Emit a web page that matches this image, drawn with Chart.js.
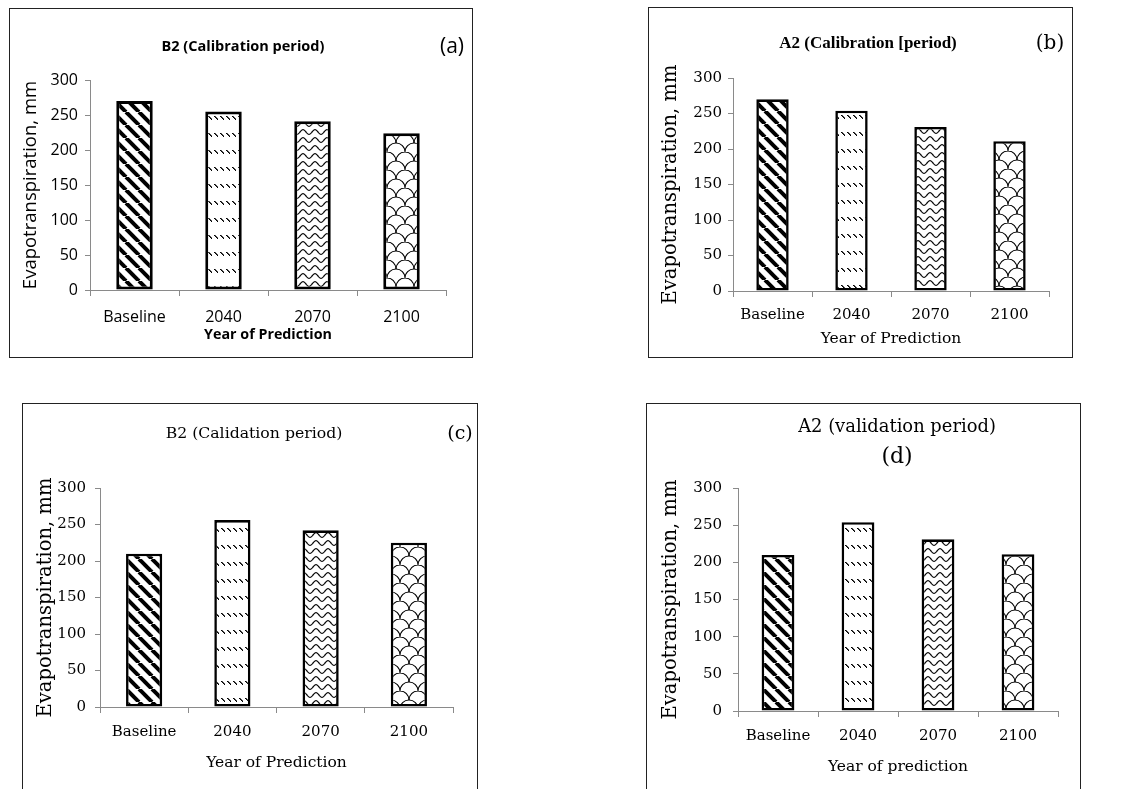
<!DOCTYPE html>
<html>
<head>
<meta charset="utf-8">
<script src="https://cdn.jsdelivr.net/npm/chart.js@4.4.0/dist/chart.umd.min.js"></script>
<style>
  html, body { margin: 0; padding: 0; background: #fff; width: 1124px; height: 789px; overflow: hidden; position: relative; }
  .box { position: absolute; border: 1.6px solid #222; box-sizing: border-box; }
  canvas.panel { position: absolute; }
  .lbl { position: absolute; transform: translate(-50%, -50%); white-space: nowrap; line-height: 1; color: #000; }
</style>
</head>
<body>
<script>
// values
const categories = ['Baseline', '2040', '2070', '2100'];
const valuesA = [270, 255, 241, 224];
const valuesB = [270, 254, 231, 211];
const valuesC = [210, 256, 242, 225];
const valuesD = [210, 254, 231, 211];
const yMin = 0;
const yMax = 300;
const yStep = 50;
const yTitle = 'Evapotranspiration, mm';

const SANS = '"Open Sans", sans-serif';
const SERIF = '"DejaVu Serif", serif';

// fill patterns, one per bar
function tile(w, h, draw) {
    const c = document.createElement('canvas');
    c.width = w; c.height = h;
    const g = c.getContext('2d');
    g.fillStyle = '#fff';
    g.fillRect(0, 0, w, h);
    draw(g);
    return g.createPattern(c, 'repeat');
}

function stripes() {
    return tile(13, 13, g => {
        g.strokeStyle = '#000';
        g.lineWidth = 4;
        [-13, 0, 13].forEach(dx => {
            g.beginPath(); g.moveTo(dx, 0); g.lineTo(dx + 13, 13); g.stroke();
        });
    });
}

function dashes() {
    return tile(6, 17, g => {
        g.fillStyle = '#000';
        for (let i = 0; i < 4; i++) g.fillRect(1 + i, 6 + i, 1, 1);
        g.fillStyle = '#555';
        for (let i = 0; i < 3; i++) g.fillRect(2 + i, 6 + i, 1, 1);
    });
}

function waves() {
    return tile(12, 8, g => {
        g.strokeStyle = '#000';
        g.lineWidth = 1.2;
        g.beginPath();
        for (let x = -1; x <= 13; x += 0.5) {
            const y = 4 + 2.3 * Math.cos(2 * Math.PI * x / 12);
            if (x === -1) g.moveTo(x, y); else g.lineTo(x, y);
        }
        g.stroke();
    });
}

function scales() {
    return tile(18, 18, g => {
        g.strokeStyle = '#000';
        g.lineWidth = 1.1;
        [[0, 9], [18, 9], [9, 18]].forEach(([cx, cy]) => {
            g.beginPath(); g.arc(cx, cy, 9, Math.PI, 2 * Math.PI); g.stroke();
        });
    });
}

const panels = [
    {
        values: valuesA, box: [9, 8, 464, 350], area: [90, 80, 446, 290], barBorder: 3,
        title: { text: 'B2 (Calibration period)', x: 243, y: 45, font: 'bold 14.5px ' + SANS },
        letter: { text: '(a)', x: 452, y: 45, font: '21px ' + SANS },
        tickFont: { family: SANS, size: 16 }, yTickPad: 7, xTickPad: 11.4,
        yTitleFont: { family: SANS, size: 18.5 }, yTitlePad: 10.4,
        xTitle: 'Year of Prediction', xTitleFont: { family: SANS, size: 14.3, weight: 'bold' }, xTitlePad: 14.6
    },
    {
        values: valuesB, box: [648, 7, 425, 351], area: [733, 78, 1049, 291], barBorder: 2.6,
        title: { text: 'A2 (Calibration [period)', x: 868, y: 43, font: 'bold 17px "Liberation Serif", serif' },
        letter: { text: '(b)', x: 1050, y: 42, font: '20px ' + SERIF },
        tickFont: { family: SERIF, size: 15 }, yTickPad: 6, xTickPad: 9,
        yTitleFont: { family: SERIF, size: 19.5 }, yTitlePad: 11.3,
        xTitle: 'Year of Prediction', xTitleFont: { family: SERIF, size: 15.5 }, xTitlePad: 9.7
    },
    {
        values: valuesC, box: [22, 403, 456, 400], area: [100, 488, 453, 707], barBorder: 2.6,
        title: { text: 'B2 (Calidation period)', x: 254, y: 432, font: '15.7px ' + SERIF },
        letter: { text: '(c)', x: 460, y: 432, font: '19px ' + SERIF },
        tickFont: { family: SERIF, size: 15 }, yTickPad: 9, xTickPad: 10,
        yTitleFont: { family: SERIF, size: 19.5 }, yTitlePad: 12.3,
        xTitle: 'Year of Prediction', xTitleFont: { family: SERIF, size: 15.5 }, xTitlePad: 16.7, canvasH: 386
    },
    {
        values: valuesD, box: [646, 403, 435, 400], area: [738, 488, 1058, 711], barBorder: 2.6,
        title: { text: 'A2 (validation period)', x: 897, y: 425, font: '17.9px ' + SERIF },
        letter: { text: '(d)', x: 897, y: 455, font: '22px ' + SERIF },
        tickFont: { family: SERIF, size: 15 }, yTickPad: 11, xTickPad: 10,
        yTitleFont: { family: SERIF, size: 19.5 }, yTitlePad: 13.3,
        xTitle: 'Year of prediction', xTitleFont: { family: SERIF, size: 15.5 }, xTitlePad: 12.7, canvasH: 386
    }
];

function addLabel(t) {
    const d = document.createElement('div');
    d.className = 'lbl';
    d.textContent = t.text;
    d.style.left = t.x + 'px';
    d.style.top = t.y + 'px';
    d.style.font = t.font;
    document.body.appendChild(d);
}

function drawPanel(p) {
    const [bx, by, bw, bh] = p.box;
    const ch = p.canvasH || bh;
    const box = document.createElement('div');
    box.className = 'box';
    box.style.left = bx + 'px'; box.style.top = by + 'px';
    box.style.width = bw + 'px'; box.style.height = bh + 'px';
    document.body.appendChild(box);

    const cv = document.createElement('canvas');
    cv.className = 'panel';
    cv.width = bw; cv.height = ch;
    cv.style.left = bx + 'px'; cv.style.top = by + 'px';
    document.body.appendChild(cv);

    const [al, at, ar, ab] = p.area;
    const axisColor = '#8a8a8a';

    new Chart(cv, {
        type: 'bar',
        data: {
            labels: categories,
            datasets: [{
                data: p.values,
                backgroundColor: [stripes(), dashes(), waves(), scales()],
                borderColor: '#000',
                borderWidth: p.barBorder,
                borderSkipped: false,
                categoryPercentage: 1,
                barPercentage: 0.41
            }]
        },
        options: {
            responsive: false,
            animation: false,
            devicePixelRatio: 1,
            layout: { padding: { left: 0, top: at - by, right: bx + bw - ar, bottom: 0 } },
            plugins: {
                legend: { display: false },
                title: { display: false },
                tooltip: { enabled: false }
            },
            scales: {
                x: {
                    grid: { offset: true, drawOnChartArea: false, drawTicks: true, tickLength: 6, color: axisColor },
                    border: { display: true, color: axisColor, width: 1 },
                    ticks: { color: '#000', font: p.tickFont, padding: p.xTickPad, maxRotation: 0 },
                    title: {
                        display: true, text: p.xTitle, color: '#000', font: p.xTitleFont,
                        padding: { top: 0, bottom: p.xTitlePad }
                    },
                    afterFit: s => { s.height = by + ch - ab; }
                },
                y: {
                    min: yMin, max: yMax,
                    grid: { drawOnChartArea: false, drawTicks: true, tickLength: 5, color: axisColor },
                    border: { display: true, color: axisColor, width: 1 },
                    ticks: { stepSize: yStep, color: '#000', font: p.tickFont, padding: p.yTickPad },
                    title: {
                        display: true, text: yTitle, color: '#000', font: p.yTitleFont,
                        padding: { top: p.yTitlePad, bottom: 0 }
                    },
                    afterFit: s => { s.width = al - bx; }
                }
            }
        }
    });

    addLabel(p.title);
    addLabel(p.letter);
}

panels.forEach(drawPanel);
</script>
</body>
</html>
